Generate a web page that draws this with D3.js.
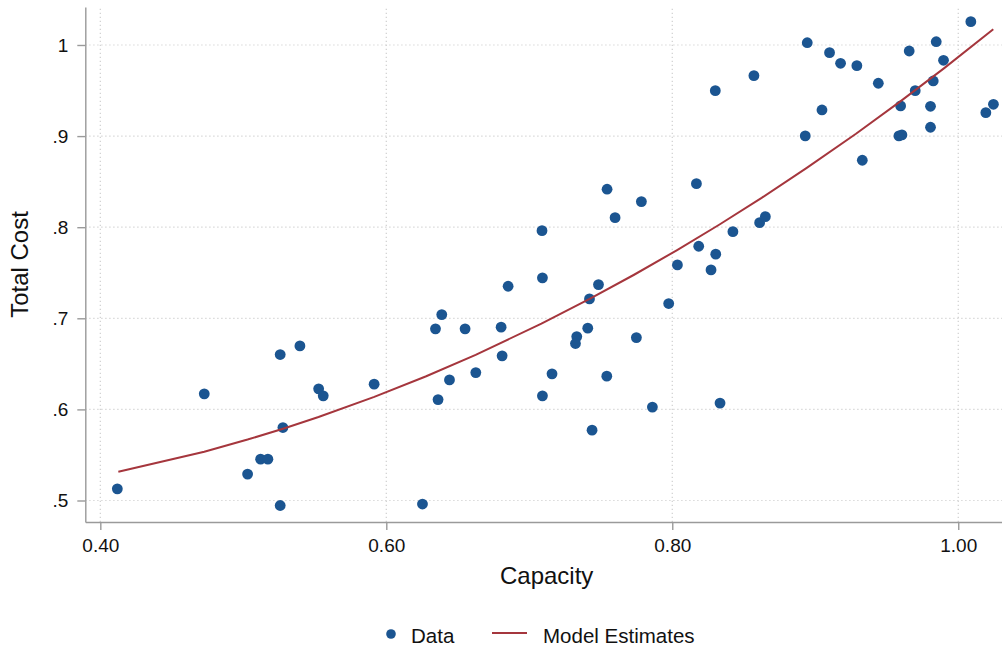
<!DOCTYPE html>
<html>
<head>
<meta charset="utf-8">
<script src="https://cdn.jsdelivr.net/npm/d3@7"></script>
<style>
  html, body { margin: 0; padding: 0; background: #fff; }
  svg { display: block; font-family: "Liberation Sans", Arial, Helvetica, sans-serif; }
</style>
</head>
<body>
<svg id="chart" width="1002" height="649"></svg>
<script>
// Observed plants: capacity utilisation vs. total cost
const capacity = [
  0.4119, 0.4727, 0.5030, 0.5121, 0.5172, 0.5258, 0.5277, 0.5258, 0.5396, 0.5527,
  0.5559, 0.5915, 0.6253, 0.6344, 0.6388, 0.6362, 0.6442, 0.6551, 0.6626, 0.6803,
  0.6810, 0.6852, 0.7089, 0.7092, 0.7092, 0.7159, 0.7332, 0.7323, 0.7409, 0.7421,
  0.7439, 0.7484, 0.7544, 0.7600, 0.7542, 0.7749, 0.7784, 0.7861, 0.7975, 0.8036,
  0.8169, 0.8185, 0.8271, 0.8304, 0.8301, 0.8334, 0.8424, 0.8571, 0.8611, 0.8651,
  0.8930, 0.8944, 0.9047, 0.9100, 0.9177, 0.9291, 0.9329, 0.9441, 0.9597, 0.9585,
  0.9606, 0.9657, 0.9699, 0.9825, 0.9806, 0.9806, 0.9846, 0.9897, 1.0088, 1.0193,
  1.0246
];
const totalCost = [
  0.5128, 0.6171, 0.5290, 0.5454, 0.5454, 0.6602, 0.5801, 0.4945, 0.6697, 0.6226,
  0.6149, 0.6277, 0.4961, 0.6884, 0.7041, 0.6108, 0.6324, 0.6884, 0.6404, 0.6903,
  0.6588, 0.7352, 0.7962, 0.7444, 0.6149, 0.6390, 0.6799, 0.6723, 0.6892, 0.7213,
  0.5772, 0.7370, 0.8417, 0.8105, 0.6365, 0.6788, 0.8281, 0.6025, 0.7162, 0.7586,
  0.8478, 0.7791, 0.7531, 0.7704, 0.9499, 0.6069, 0.7951, 0.9663, 0.8050, 0.8116,
  0.9002, 1.0025, 0.9287, 0.9916, 0.9799, 0.9773, 0.8735, 0.9580, 0.9331, 0.9002,
  0.9013, 0.9934, 0.9499, 0.9605, 0.9327, 0.9097, 1.0036, 0.9832, 1.0256, 0.9257,
  0.9349
];

// Fitted cost curve (model estimates)
const fitCapacity = [0.4126, 0.4727, 0.5030, 0.5278, 0.5526, 0.5916, 0.6275, 0.6625, 0.7085, 0.7422,
                     0.7733, 0.8031, 0.8325, 0.8625, 0.8938, 0.9285, 0.9600, 0.9902, 1.0245];
const fitCost     = [0.5316, 0.5536, 0.5669, 0.5788, 0.5916, 0.6137, 0.6361, 0.6599, 0.6941, 0.7212,
                     0.7478, 0.7746, 0.8024, 0.8322, 0.8649, 0.9026, 0.9387, 0.9746, 1.0172];

const xTicks = [0.4, 0.6, 0.8, 1.0];
const yTicks = [0.5, 0.6, 0.7, 0.8, 0.9, 1.0];

const dotColor = "#1b5591";
const lineColor = "#a5363d";
const axisColor = "#9a9a9a";
const gridColor = "#cfcfcf";
const textColor = "#111111";

const svg = d3.select("#chart");

const x = d3.scaleLinear().domain([0.3895, 1.0306]).range([85.3, 1002]);
const y = d3.scaleLinear().domain([0.4764, 1.0417]).range([522, 7]);

// Dotted grid
const grid = svg.append("g");
grid.selectAll("line.h").data(yTicks).join("line")
  .attr("x1", x.range()[0]).attr("x2", x.range()[1])
  .attr("y1", d => y(d)).attr("y2", d => y(d))
  .attr("stroke", gridColor).attr("stroke-width", 1.2)
  .attr("stroke-dasharray", "1.2,2.8");
grid.selectAll("line.v").data(xTicks).join("line")
  .attr("y1", y.range()[0]).attr("y2", y.range()[1])
  .attr("x1", d => x(d)).attr("x2", d => x(d))
  .attr("stroke", gridColor).attr("stroke-width", 1.2)
  .attr("stroke-dasharray", "1.2,2.8");

// Axes
const yFmt = d => d === 1 ? "1" : d3.format(".1f")(d).replace(/^0/, "");
const yAxis = svg.append("g")
  .attr("transform", `translate(${x.range()[0]},0)`)
  .call(d3.axisLeft(y).tickValues(yTicks).tickFormat(yFmt).tickSize(8).tickSizeOuter(0).tickPadding(9));
const xAxis = svg.append("g")
  .attr("transform", `translate(0,${y.range()[0]})`)
  .call(d3.axisBottom(x).tickValues(xTicks).tickFormat(d3.format(".2f")).tickSize(8).tickSizeOuter(0).tickPadding(9));

[xAxis, yAxis].forEach(a => {
  a.select(".domain").attr("stroke", axisColor).attr("stroke-width", 1.4);
  a.selectAll(".tick line").attr("stroke", axisColor).attr("stroke-width", 1.4);
  a.selectAll(".tick text").attr("fill", textColor).style("font-size", "19px")
    .style("font-family", "\"Liberation Sans\", Arial, Helvetica, sans-serif");
});

// Axis titles
svg.append("text")
  .attr("x", (x.range()[0] + x.range()[1]) / 2 + 3).attr("y", 584)
  .attr("text-anchor", "middle").attr("fill", textColor)
  .style("font-size", "24px").text("Capacity");
svg.append("text")
  .attr("transform", `translate(28,${(y.range()[0] + y.range()[1]) / 2}) rotate(-90)`)
  .attr("text-anchor", "middle").attr("fill", textColor)
  .style("font-size", "24px").text("Total Cost");

// Data points
svg.append("g").selectAll("circle").data(capacity).join("circle")
  .attr("cx", d => x(d))
  .attr("cy", (d, i) => y(totalCost[i]))
  .attr("r", 5.4)
  .attr("fill", dotColor);

// Model estimate line
const line = d3.line().x(d => x(d[0])).y(d => y(d[1]));
svg.append("path")
  .datum(fitCapacity.map((c, i) => [c, fitCost[i]]))
  .attr("d", line)
  .attr("fill", "none")
  .attr("stroke", lineColor)
  .attr("stroke-width", 2);

// Legend
const legend = svg.append("g");
legend.append("circle").attr("cx", 391).attr("cy", 634).attr("r", 4.8).attr("fill", dotColor);
legend.append("text").attr("x", 411).attr("y", 642.5).attr("fill", textColor)
  .style("font-size", "20.5px").text("Data");
legend.append("line").attr("x1", 492).attr("x2", 527).attr("y1", 633).attr("y2", 633)
  .attr("stroke", lineColor).attr("stroke-width", 2);
legend.append("text").attr("x", 543).attr("y", 642.5).attr("fill", textColor)
  .style("font-size", "20.5px").text("Model Estimates");
</script>
</body>
</html>
